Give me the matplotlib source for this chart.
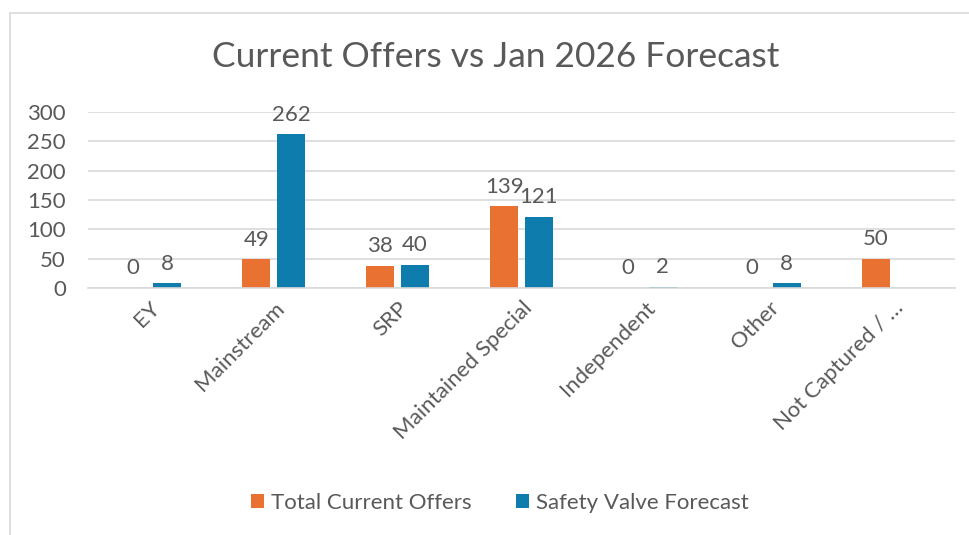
import numpy as np
import matplotlib
matplotlib.use("Agg")
import matplotlib.pyplot as plt
from matplotlib.patches import Rectangle

# data
categories = ["EY", "Mainstream", "SRP", "Maintained Special",
              "Independent", "Other", "Not Captured / \u2026"]
current_offers = [0, 49, 38, 139, 0, 0, 50]
safety_valve = [8, 262, 40, 121, 2, 8, np.nan]
yticks = [0, 50, 100, 150, 200, 250, 300]

ORANGE = "#E97132"
BLUE = "#0E7DAD"
TXT = "#595959"

plt.rcParams["font.family"] = ["Lato", "DejaVu Sans"]

fig = plt.figure(figsize=(9.7, 5.35), dpi=100)
ax = fig.add_axes([88 / 970, 1 - 288 / 535, (955 - 88) / 970, (288 - 112) / 535])

# outer chart frame (top and left edges visible)
fig.patches.append(Rectangle((10 / 970, -0.1), 1.2, 1 - 13 / 535 + 0.1,
                             transform=fig.transFigure, fill=False,
                             edgecolor="#d9d9d9", linewidth=1.2))

x = np.arange(len(categories))
w = 0.226
off = 0.141
b1 = ax.bar(x - off, current_offers, w, color=ORANGE, label="Total Current Offers")
b2 = ax.bar(x + off, np.nan_to_num(safety_valve), w, color=BLUE,
            label="Safety Valve Forecast")

for xs, vals in ((x - off, current_offers), (x + off, safety_valve)):
    for xi, v in zip(xs, vals):
        if np.isnan(v):
            continue
        ax.annotate(f"{v:.0f}", (xi, v), xytext=(0, 7), textcoords="offset points",
                    ha="center", va="bottom", fontsize=16, color=TXT)

ax.set_xlim(-0.5, len(categories) - 0.5)
ax.set_ylim(0, 300)
ax.set_yticks(yticks)
ax.set_yticklabels([str(t) for t in yticks])
ax.yaxis.grid(True, color="#d9d9d9", linewidth=1.2)
ax.set_axisbelow(True)
for s in ("top", "right", "left"):
    ax.spines[s].set_visible(False)
ax.spines["bottom"].set_color("#d9d9d9")
ax.spines["bottom"].set_linewidth(1.2)
ax.tick_params(axis="both", length=0, labelsize=16, labelcolor=TXT)
ax.tick_params(axis="y", pad=16)
ax.tick_params(axis="x", pad=7)
ax.set_xticks(x)
ax.set_xticklabels(categories, rotation=45, ha="right", rotation_mode="anchor")

fig.text(496 / 970, 1 - 57 / 535, "Current Offers vs Jan 2026 Forecast",
         ha="center", va="center", fontsize=25.5, color=TXT)

fig.legend(handles=[b1, b2], loc="center", bbox_to_anchor=(500 / 970, 1 - 503 / 535),
           ncol=2, frameon=False, fontsize=16, labelcolor=TXT,
           handlelength=0.6, handleheight=0.6, handletextpad=0.3, columnspacing=2.0)

fig.savefig("out.png", dpi=100)
